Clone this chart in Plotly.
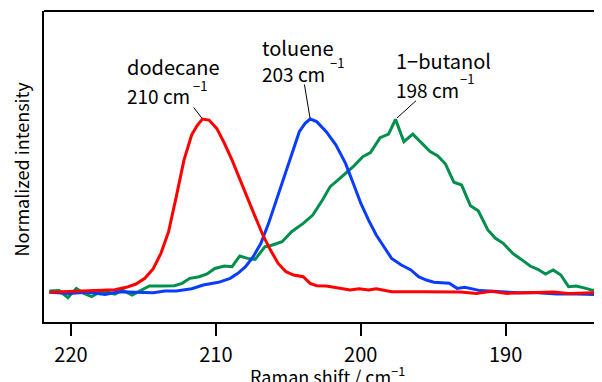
import plotly.graph_objects as go

# ---- data (Raman shift in cm^-1, normalized intensity) ----
dodecane_x = [221.49, 220.29, 218.83, 217.77, 216.97, 216.18, 215.51, 214.90, 214.32, 213.79,
              213.26, 212.73, 212.20, 211.67, 211.27, 210.92, 210.47, 209.94, 209.41, 208.88,
              208.35, 207.82, 207.29, 206.76, 206.23, 205.70, 205.16, 204.63, 203.97, 203.49,
              203.04, 202.38, 201.58, 200.73, 200.12, 199.46, 198.93, 197.87, 195.74, 193.09,
              192.03, 190.97, 189.90, 188.31, 186.72, 185.66, 183.33]
dodecane_y = [0.0, 0.004, 0.008, 0.013, 0.015, 0.029, 0.048, 0.081, 0.137, 0.225,
              0.35, 0.552, 0.763, 0.908, 0.965, 1.0, 0.994, 0.946, 0.86, 0.763,
              0.658, 0.552, 0.437, 0.331, 0.244, 0.167, 0.119, 0.1, 0.09, 0.052,
              0.038, 0.037, 0.027, 0.013, 0.021, 0.013, 0.021, 0.004, 0.004, 0.002,
              -0.006, 0.006, -0.006, -0.002, 0.002, -0.006, -0.002]

toluene_x = [221.49, 220.16, 218.83, 217.64, 216.71, 215.65, 214.32, 213.52, 212.73, 211.67,
             210.87, 209.81, 209.01, 208.48, 207.95, 207.42, 206.89, 206.36, 205.83, 205.30,
             204.77, 204.24, 203.84, 203.49, 203.04, 202.38, 201.71, 201.05, 200.52, 199.99,
             199.46, 198.93, 198.40, 197.87, 197.20, 196.54, 196.01, 195.48, 194.95, 193.89,
             193.35, 192.82, 191.76, 190.43, 189.11, 187.78, 186.45, 185.13, 183.33]
toluene_y = [0.0, -0.006, 0.0, -0.012, 0.004, 0.002, -0.002, 0.008, 0.008, 0.021,
             0.042, 0.058, 0.081, 0.11, 0.148, 0.206, 0.283, 0.398, 0.533, 0.667,
             0.802, 0.927, 0.975, 1.0, 0.985, 0.927, 0.85, 0.744, 0.629, 0.513,
             0.417, 0.331, 0.263, 0.196, 0.158, 0.129, 0.09, 0.071, 0.058, 0.052,
             0.023, 0.029, 0.01, 0.004, -0.002, -0.002, -0.01, -0.01, -0.013]

butanol_x = [221.49, 220.82, 220.21, 219.63, 219.10, 218.57, 217.98, 217.51, 216.97, 216.44,
             215.78, 215.12, 214.59, 213.79, 212.86, 212.33, 211.80, 211.14, 210.61, 210.07,
             209.41, 208.88, 208.35, 207.82, 207.29, 206.62, 206.09, 205.43, 204.77, 203.97,
             203.31, 202.64, 202.11, 201.58, 201.05, 200.52, 199.86, 199.33, 198.66, 198.08,
             197.60, 197.02, 196.41, 195.88, 195.21, 194.68, 194.15, 193.57, 193.04, 192.43,
             191.89, 191.23, 190.70, 190.17, 189.51, 188.92, 188.31, 187.78, 187.25, 186.72,
             186.19, 185.66, 185.13, 184.46, 183.93, 183.33]
butanol_y = [0.008, 0.01, -0.031, 0.023, -0.006, -0.025, 0.004, 0.002, -0.01, 0.013,
             -0.015, 0.013, 0.037, 0.037, 0.038, 0.052, 0.081, 0.09, 0.106, 0.138,
             0.152, 0.148, 0.21, 0.196, 0.19, 0.263, 0.273, 0.292, 0.35, 0.398,
             0.446, 0.533, 0.61, 0.648, 0.687, 0.725, 0.783, 0.806, 0.892, 0.913,
             0.998, 0.869, 0.913, 0.869, 0.812, 0.787, 0.74, 0.635, 0.619, 0.5,
             0.471, 0.36, 0.312, 0.283, 0.225, 0.19, 0.152, 0.133, 0.106, 0.129,
             0.1, 0.033, 0.037, 0.023, 0.01, 0.056]

tick_vals = [220, 210, 200, 190]
tick_text = ["220", "210", "200", "190"]

FONT = "Noto Sans CJK JP"
RED, BLUE, GREEN = "#ff0000", "#0a3cff", "#008f4c"

fig = go.Figure()
fig.add_trace(go.Scatter(x=butanol_x, y=butanol_y, mode="lines",
                         line=dict(color=GREEN, width=3), name="1-butanol"))
fig.add_trace(go.Scatter(x=toluene_x, y=toluene_y, mode="lines",
                         line=dict(color=BLUE, width=3), name="toluene"))
fig.add_trace(go.Scatter(x=dodecane_x, y=dodecane_y, mode="lines",
                         line=dict(color=RED, width=3), name="dodecane"))

def peak(xs, ys):
    i = max(range(len(ys)), key=lambda k: ys[k])
    return xs[i], ys[i]

annotations = []
labels = [
    ("dodecane", (216.07, 1.300), "210 cm", (216.07, 1.134), (211.79, 1.195)),
    ("toluene", (206.75, 1.415), "203 cm", (206.75, 1.265), (202.35, 1.328)),
    ("1\u2212butanol", (197.52, 1.336), "198 cm", (197.52, 1.173), (193.36, 1.232)),
]
for name, npos, num, numpos, suppos in labels:
    annotations.append(dict(x=npos[0], y=npos[1], text=name, showarrow=False,
                            xanchor="left", yanchor="middle", xshift=-3,
                            font=dict(size=20, color="black", family=FONT)))
    annotations.append(dict(x=numpos[0], y=numpos[1], text=num, showarrow=False,
                            xanchor="left", yanchor="middle", xshift=-3,
                            font=dict(size=19, color="black", family=FONT)))
    annotations.append(dict(x=suppos[0], y=suppos[1], text="\u22121", showarrow=False,
                            xanchor="left", yanchor="middle", xshift=1,
                            font=dict(size=13, color="black", family=FONT)))

for (xs, ys), (ax, ay, so) in [((dodecane_x, dodecane_y), (-10, -13, 1)),
                               ((toluene_x, toluene_y), (-6, -36, 1)),
                               ((butanol_x, butanol_y), (22, -20, 2))]:
    px, py = peak(xs, ys)
    annotations.append(dict(x=px, y=py, text="", showarrow=True, arrowhead=0,
                            arrowwidth=1, arrowcolor="black", ax=ax, ay=ay,
                            standoff=so, startstandoff=0))

annotations.append(dict(xref="paper", yref="paper", x=0.508, y=0, yshift=-53,
                        text="Raman shift / cm<sup>\u22121</sup>", showarrow=False,
                        xanchor="center", yanchor="middle",
                        font=dict(size=18, color="black", family=FONT)))
annotations.append(dict(xref="paper", yref="paper", x=0, xshift=-24, y=0.5, yshift=-3,
                        text="Normalized intensity", showarrow=False, textangle=-90,
                        xanchor="center", yanchor="middle",
                        font=dict(size=18, color="black", family=FONT)))

fig.update_layout(
    width=594, height=374,
    margin=dict(l=36, r=0, t=3, b=60),
    plot_bgcolor="white", paper_bgcolor="white",
    showlegend=False,
    annotations=annotations,
    shapes=[dict(type="line", xref="paper", yref="paper", x0=0, x1=1, y0=1, y1=1,
                 line=dict(color="black", width=2))],
    xaxis=dict(range=[221.86, 183.35], showgrid=False, zeroline=False,
               showline=True, linecolor="black", linewidth=2,
               ticks="outside", ticklen=12, tickwidth=2, tickcolor="black",
               tickvals=tick_vals, ticktext=tick_text,
               tickfont=dict(size=20, color="black", family=FONT),
               ticklabelstandoff=2),
    yaxis=dict(range=[-0.171, 1.623], showgrid=False, zeroline=False,
               showline=True, linecolor="black", linewidth=2,
               showticklabels=False, ticks=""),
)

fig.write_html("out.html")
